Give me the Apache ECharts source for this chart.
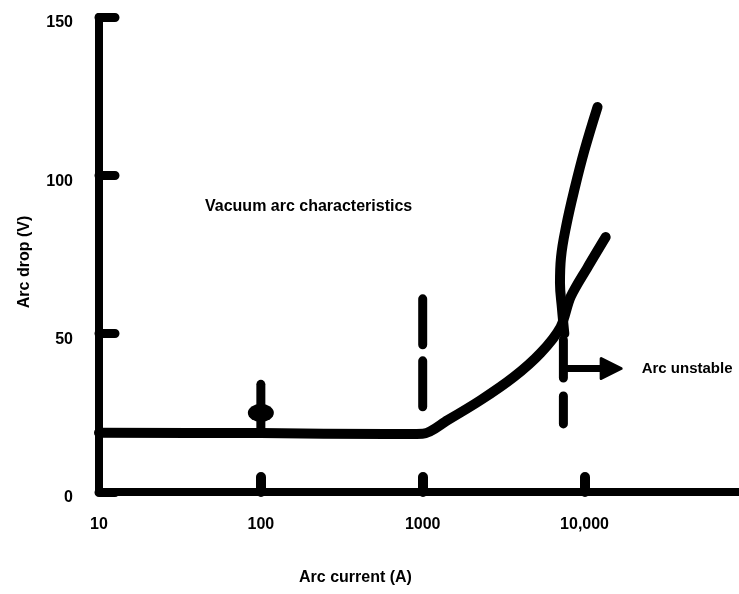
<!DOCTYPE html>
<html>
<head>
<meta charset="utf-8">
<script src="https://cdn.jsdelivr.net/npm/echarts@6/dist/echarts.min.js"></script>
<style>
  html, body { margin: 0; padding: 0; background: #fff; }
  #chart { width: 739px; height: 594px; }
</style>
</head>
<body>
<div id="chart"></div>
<script>
// ---- data ----
const xTicks = [10, 100, 1000, 10000];
const xTickText = ['10', '100', '1000', '10,000'];
const xTickMarks = [100, 1000, 10000];

// main characteristic: [current (A), arc drop (V)]
const mainCurve = [
  [10, 18.7], [100, 18.6], [600, 18.3], [1000, 18.4], [1426, 22.7], [2280, 29],
  [3650, 36.3], [5350, 43.9], [7110, 52.1], [8200, 61.6], [10450, 71], [13500, 80.5]
];
// steep branch (unstable region)
const steepBranch = [
  [7500, 50], [7250, 58], [7050, 66], [7150, 74], [7700, 84], [8700, 96],
  [10000, 108], [12030, 121.6]
];
// vertical dashed markers
const dashAt1000 = [[1000, 61], [1000, 26.4]];
const dashAtLimit = [[7400, 48], [7400, 21.5]];
// marker on flat line at 100 A
const marker100 = [[100, 19], [100, 34]];
const marker100Bulb = [[100, 25]];
// arrow "Arc unstable"
const arrowPts = [[7400, 39], [14600, 39]];
const arrowLabel = 'Arc unstable';

const chart = echarts.init(document.getElementById('chart'), null, { renderer: 'canvas' });
const FONT = "'Liberation Sans', Arial, sans-serif";
const lineSeries = (data, width, extra) => Object.assign({
  type: 'line', data: data, showSymbol: false, symbol: 'none', silent: true,
  lineStyle: { color: '#000', width: width, cap: 'round', join: 'round' },
  z: 3
}, extra || {});

chart.setOption({
  animation: false,
  backgroundColor: '#fff',
  grid: { left: 99, right: 0, top: 17, bottom: 102, containLabel: false },
  xAxis: {
    type: 'log', logBase: 10, min: 10, max: 90000,
    axisLine: { show: true, onZero: false, lineStyle: { color: '#000', width: 8, cap: 'round' } },
    axisTick: { show: true, inside: true, length: 15, customValues: xTickMarks,
      lineStyle: { color: '#000', width: 10, cap: 'round' } },
    axisLabel: {
      customValues: xTicks, margin: 25, color: '#000', fontSize: 16, fontWeight: 'bold', fontFamily: FONT,
      formatter: function (v) { const i = xTicks.indexOf(Math.round(v)); return i >= 0 ? xTickText[i] : ''; }
    },
    splitLine: { show: false }, minorTick: { show: false }
  },
  yAxis: {
    type: 'value', min: 0, max: 150, interval: 50,
    axisLine: { show: true, lineStyle: { color: '#000', width: 8, cap: 'round' } },
    axisTick: { show: true, inside: true, length: 16, lineStyle: { color: '#000', width: 9, cap: 'round' } },
    axisLabel: { margin: 26, color: '#000', fontSize: 16, fontWeight: 'bold', fontFamily: FONT,
      verticalAlign: 'top', lineHeight: 12 },
    splitLine: { show: false }
  },
  graphic: [
    { type: 'text', left: 205, top: 199, style: { text: 'Vacuum arc characteristics', fill: '#000', font: "bold 16px " + FONT } },
    { type: 'text', left: 299, top: 570, style: { text: 'Arc current (A)', fill: '#000', font: "bold 16px " + FONT } },
    { type: 'text', x: 25, y: 262, rotation: Math.PI / 2, style: { text: 'Arc drop (V)', fill: '#000', font: "bold 16px " + FONT, align: 'center', verticalAlign: 'middle' } }
  ],
  series: [
    lineSeries(mainCurve, 10, { smooth: 0.3 }),
    lineSeries(steepBranch, 10, { smooth: 0.4 }),
    lineSeries(dashAt1000, 9, { lineStyle: { color: '#000', width: 9, cap: 'round', type: [46, 16] } }),
    lineSeries(dashAtLimit, 9, { lineStyle: { color: '#000', width: 9, cap: 'round', type: [38, 18] } }),
    lineSeries(marker100, 9),
    {
      type: 'scatter', data: marker100Bulb, symbol: 'circle', symbolSize: [26, 18], silent: true,
      itemStyle: { color: '#000', opacity: 1 }, z: 4
    },
    {
      type: 'line', silent: true, z: 4,
      lineStyle: { color: '#000', width: 7 },
      symbol: 'none', showSymbol: true,
      itemStyle: { color: '#000', opacity: 1 },
      data: [
        { value: arrowPts[0], symbol: 'none' },
        {
          value: arrowPts[1], symbol: 'triangle', symbolRotate: -90, symbolSize: [20, 20],
          itemStyle: { color: '#000', borderColor: '#000', borderWidth: 3, borderJoin: 'round' },
          label: { show: true, position: 'right', distance: 19, formatter: arrowLabel,
            color: '#000', fontSize: 15, fontWeight: 'bold', fontFamily: FONT }
        }
      ]
    }
  ]
});
</script>
</body>
</html>
